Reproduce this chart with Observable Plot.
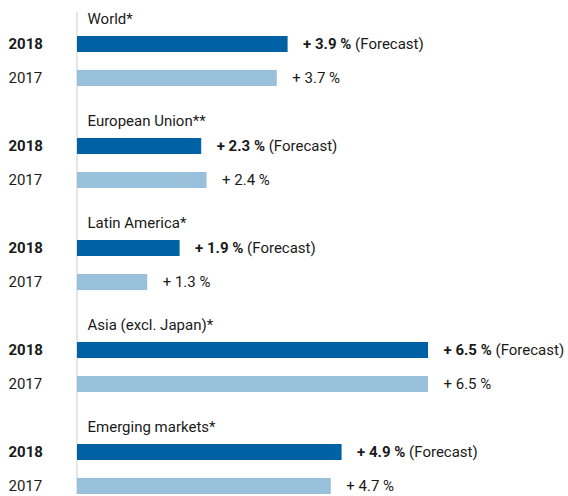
<!DOCTYPE html>
<html>
<head>
<meta charset="utf-8">
<script src="https://cdn.jsdelivr.net/npm/d3@7"></script>
<script src="https://cdn.jsdelivr.net/npm/@observablehq/plot@0.6"></script>
<style>
  html, body { margin: 0; padding: 0; background: #fff; }
  #chart svg { display: block; }
</style>
</head>
<body>
<div id="chart"></div>
<script>
const regions = ["World*", "European Union**", "Latin America*", "Asia (excl. Japan)*", "Emerging markets*"];
const growth2018 = [3.9, 2.3, 1.9, 6.5, 4.9];
const growth2017 = [3.7, 2.4, 1.3, 6.5, 4.7];
const years = ["2018", "2017"];
const forecastNote = "(Forecast)";

const fmt = v => "+ " + v.toFixed(1) + " %";

// rows: title row, 2018 row, 2017 row for each region
const rowKeys = [];
regions.forEach(r => { rowKeys.push(r + "|title", r + "|2018", r + "|2017"); });

const titles = regions.map(r => ({ key: r + "|title", label: r }));
const bars18 = regions.map((r, i) => ({ key: r + "|2018", value: growth2018[i], year: years[0], label: fmt(growth2018[i]) + " " + forecastNote }));
const bars17 = regions.map((r, i) => ({ key: r + "|2017", value: growth2017[i], year: years[1], label: fmt(growth2017[i]) }));

const font = "Roboto, 'Liberation Sans', sans-serif";
const fs = 15;

const chart = Plot.plot({
  width: 568,
  height: 496,
  marginLeft: 77,
  marginRight: 0,
  marginTop: 2,
  marginBottom: 2,
  style: { fontFamily: font, fontSize: fs + "px", color: "#1a1a1a", background: "#fff" },
  x: { domain: [0, 6.5], range: [77, 428], axis: null },
  y: { domain: rowKeys, paddingInner: 0.53, paddingOuter: 0, axis: null },
  marks: [
    Plot.ruleX([0], { stroke: "#d4d4d4", strokeWidth: 1.2, insetTop: 10, dx: -0.5 }),
    Plot.barX(bars18, { y: "key", x: "value", fill: "#0062a4" }),
    Plot.barX(bars17, { y: "key", x: "value", fill: "#9ac1dc" }),
    Plot.text(titles, { y: "key", x: 0, text: "label", textAnchor: "start", dx: 10, dy: 9, fontSize: fs, fill: "#1a1a1a" }),
    Plot.text(bars18, { y: "key", x: 0, text: "year", textAnchor: "start", dx: -69, fontWeight: "bold", fontSize: fs, fill: "#1a1a1a" }),
    Plot.text(bars17, { y: "key", x: 0, text: "year", textAnchor: "start", dx: -69, fontSize: fs, fill: "#1a1a1a" }),
    Plot.text(bars18, { y: "key", x: "value", text: "label", textAnchor: "start", dx: 15, fontSize: fs, fill: "#1a1a1a", className: "val18" }),
    Plot.text(bars17, { y: "key", x: "value", text: "label", textAnchor: "start", dx: 15, fontSize: fs, fill: "#1a1a1a" })
  ]
});

// bold value, regular "(Forecast)"
d3.select(chart).selectAll(".val18 text").each(function () {
  const t = this.textContent;
  const idx = t.indexOf(forecastNote);
  const a = t.slice(0, idx);
  this.textContent = "";
  d3.select(this).append("tspan").attr("font-weight", "bold").text(a);
  d3.select(this).append("tspan").attr("font-weight", "normal").text(forecastNote);
});

document.getElementById("chart").appendChild(chart);
</script>
</body>
</html>
